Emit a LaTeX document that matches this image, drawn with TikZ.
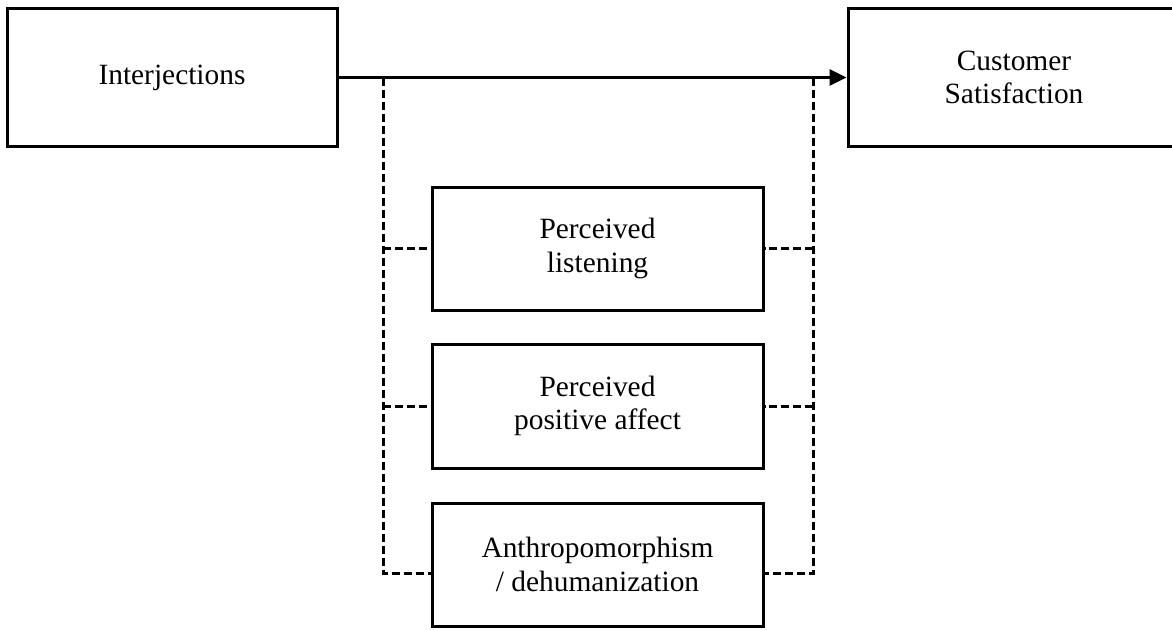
\documentclass[tikz,border=0pt]{standalone}
\usepackage{fontspec}
\setmainfont{Liberation Serif}
\usetikzlibrary{arrows.meta}
\begin{document}
\begin{tikzpicture}[x=1pt,y=-1pt,
  box/.style={draw,line width=3pt,inner sep=0pt,align=center,
    font=\fontsize{29.4}{33.5}\selectfont},
  dline/.style={line width=3pt,dash pattern=on 8pt off 4pt},
  solidline/.style={line width=3pt}]
\useasboundingbox (0,0) rectangle (1172,629);
\node[box,minimum width=330pt,minimum height=138pt] (int) at (172,77.5) {Interjections};
\node[box,minimum width=332pt,minimum height=138pt] (cs) at (1014,77.5) {Customer\\Satisfaction};
\node[box,minimum width=331pt,minimum height=123pt] (m1) at (597.5,248.5) {Perceived\\listening};
\node[box,minimum width=331pt,minimum height=124pt] (m2) at (597.5,406) {Perceived\\positive affect};
\node[box,minimum width=331pt,minimum height=123pt] (m3) at (597.5,564.5) {Anthropomorphism\\/ dehumanization};
\draw[solidline,-{Triangle[length=17pt,width=16pt]}] (int.east) -- (cs.west);
\coordinate (L0) at (383,77.5);
\coordinate (R0) at (813,77.5);
\coordinate (L3) at (383,573);
\coordinate (R3) at (813,573);
\draw[dline] (L0) -- (L3) -- (m3.west |- L3);
\draw[dline] (R0) -- (R3) -- (m3.east |- R3);
\draw[dline] (L0 |- m1.west) -- (m1.west);
\draw[dline] (L0 |- m2.west) -- (m2.west);
\draw[dline] (R0 |- m1.east) -- (m1.east);
\draw[dline] (R0 |- m2.east) -- (m2.east);
\end{tikzpicture}
\end{document}
